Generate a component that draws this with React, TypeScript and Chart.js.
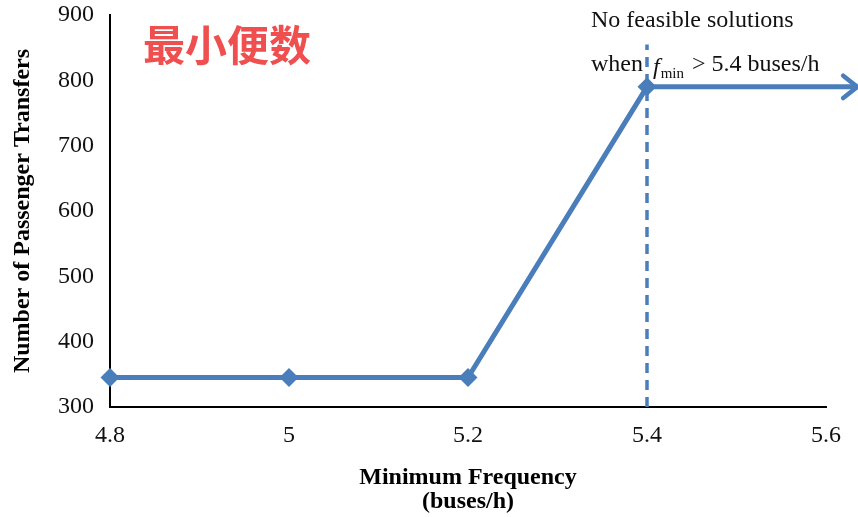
import React, { useEffect, useRef } from 'react';
import { Chart, registerables } from 'chart.js';

Chart.register(...registerables);

// Passenger transfers against the minimum bus frequency constraint
const frequencies = [4.8, 5.0, 5.2, 5.4];
const transfers = [345, 345, 345, 790];
// the result keeps its value beyond the last feasible frequency (drawn as an arrow)
const arrowEndFrequency = 5.635;

const xTickValues = [4.8, 5.0, 5.2, 5.4, 5.6];
const xTickLabels = ['4.8', '5', '5.2', '5.4', '5.6'];
const yTickValues = [300, 400, 500, 600, 700, 800, 900];

// vertical dashed marker at the infeasibility threshold
const thresholdFrequency = 5.4;
const thresholdSpan = [300, 855];

const chartTitle = '最小便数';
const noteLine1 = 'No feasible solutions';
const noteWhen = 'when';
const noteSymbol = 'f';
const noteSub = 'min';
const noteRest = '> 5.4 buses/h';

const BLUE = '#4A7EBB';
const SERIF = '"Liberation Serif", "Times New Roman", serif';

const overlayPlugin = {
  id: 'overlay',
  afterDatasetsDraw(chart: any) {
    const ctx = chart.ctx;
    // arrowhead at the end of the continuation segment
    const meta = chart.getDatasetMeta(0);
    const pts = meta.data;
    const end = pts[pts.length - 1];
    const prev = pts[pts.length - 2];
    const ang = Math.atan2(end.y - prev.y, end.x - prev.x);
    const len = 18;
    const spread = 0.67;
    ctx.save();
    ctx.strokeStyle = BLUE;
    ctx.lineWidth = 4.5;
    ctx.lineCap = 'round';
    ctx.lineJoin = 'round';
    ctx.beginPath();
    ctx.moveTo(end.x - len * Math.cos(ang - spread), end.y - len * Math.sin(ang - spread));
    ctx.lineTo(end.x, end.y);
    ctx.lineTo(end.x - len * Math.cos(ang + spread), end.y - len * Math.sin(ang + spread));
    ctx.stroke();
    ctx.restore();
  },
  afterDraw(chart: any) {
    const ctx = chart.ctx;
    ctx.save();
    // red heading
    ctx.fillStyle = '#EF4F4F';
    ctx.font = 'bold 42px "Noto Sans CJK SC", "Noto Sans CJK JP", sans-serif';
    ctx.textBaseline = 'middle';
    ctx.textAlign = 'left';
    ctx.fillText(chartTitle, 143, 45);

    // note about the infeasible region
    ctx.fillStyle = '#111';
    ctx.textBaseline = 'alphabetic';
    ctx.font = `24px ${SERIF}`;
    const nx = 591;
    ctx.fillText(noteLine1, nx, 27);
    let x = nx;
    const by = 71;
    ctx.fillText(noteWhen, x, by);
    x += ctx.measureText(noteWhen).width + 10;
    ctx.font = `italic 24px ${SERIF}`;
    ctx.fillText(noteSymbol, x, by + 3);
    x += ctx.measureText(noteSymbol).width + 1;
    ctx.font = `15px ${SERIF}`;
    ctx.fillText(noteSub, x, by + 7);
    x += ctx.measureText(noteSub).width + 8;
    ctx.font = `24px ${SERIF}`;
    ctx.fillText(noteRest, x, by);
    ctx.restore();
  },
};

export default function App() {
  const ref = useRef<HTMLCanvasElement | null>(null);

  useEffect(() => {
    document.body.style.margin = '0';
    const canvas = ref.current;
    if (!canvas) return;

    const mainData = frequencies.map((f, i) => ({ x: f, y: transfers[i] }));
    mainData.push({ x: arrowEndFrequency, y: transfers[transfers.length - 1] });
    const pointRadii = mainData.map((_, i) => (i < frequencies.length ? 9.5 : 0));

    const chart = new Chart(canvas, {
      type: 'line',
      data: {
        datasets: [
          {
            label: 'Transfers',
            data: mainData,
            borderColor: BLUE,
            backgroundColor: BLUE,
            borderWidth: 5,
            pointStyle: 'rectRot',
            pointRadius: pointRadii,
            pointBorderWidth: 0,
            pointBackgroundColor: BLUE,
            tension: 0,
            clip: false as any,
          },
          {
            label: 'Threshold',
            data: thresholdSpan.map((v) => ({ x: thresholdFrequency, y: v })),
            borderColor: BLUE,
            borderWidth: 3.5,
            borderDash: [10, 7],
            pointRadius: 0,
            clip: false as any,
          },
        ],
      },
      options: {
        animation: false,
        responsive: false,
        devicePixelRatio: 1,
        layout: { padding: { left: 0, right: 32, top: 15, bottom: 0 } },
        plugins: {
          legend: { display: false },
          tooltip: { enabled: false },
        },
        scales: {
          x: {
            type: 'linear',
            min: 4.8,
            max: 5.6,
            afterBuildTicks: (s: any) => {
              s.ticks = xTickValues.map((v) => ({ value: v }));
            },
            afterFit: (s: any) => {
              s.height = 110;
              s.paddingLeft = 0;
              s.paddingRight = 0;
            },
            grid: { display: false, drawTicks: false },
            border: { display: true, color: '#000', width: 2 },
            ticks: {
              color: '#111',
              padding: 14,
              maxRotation: 0,
              autoSkip: false,
              font: { family: SERIF, size: 24 },
              callback: (_v: any, i: number) => xTickLabels[i],
            },
            title: {
              display: true,
              text: ['Minimum Frequency', '(buses/h)'],
              color: '#000',
              font: { family: SERIF, size: 24, weight: 'bold', lineHeight: 1 },
              padding: { top: 4, bottom: 3 },
            },
          },
          y: {
            type: 'linear',
            min: 300,
            max: 900,
            afterBuildTicks: (s: any) => {
              s.ticks = yTickValues.map((v) => ({ value: v }));
            },
            afterFit: (s: any) => {
              s.width = 110;
              s.paddingTop = 0;
              s.paddingBottom = 0;
            },
            grid: { display: false, drawTicks: false },
            border: { display: true, color: '#000', width: 2 },
            ticks: {
              color: '#111',
              padding: 16,
              autoSkip: false,
              font: { family: SERIF, size: 24 },
            },
            title: {
              display: true,
              text: 'Number of Passenger Transfers',
              color: '#000',
              font: { family: SERIF, size: 24, weight: 'bold', lineHeight: 1 },
              padding: { top: 11, bottom: 4 },
            },
          },
        },
      } as any,
      plugins: [overlayPlugin],
    });

    return () => chart.destroy();
  }, []);

  return (
    <div style={{ width: 858, height: 517, background: '#fff' }}>
      <canvas ref={ref} width={858} height={517} style={{ display: 'block' }} />
    </div>
  );
}
